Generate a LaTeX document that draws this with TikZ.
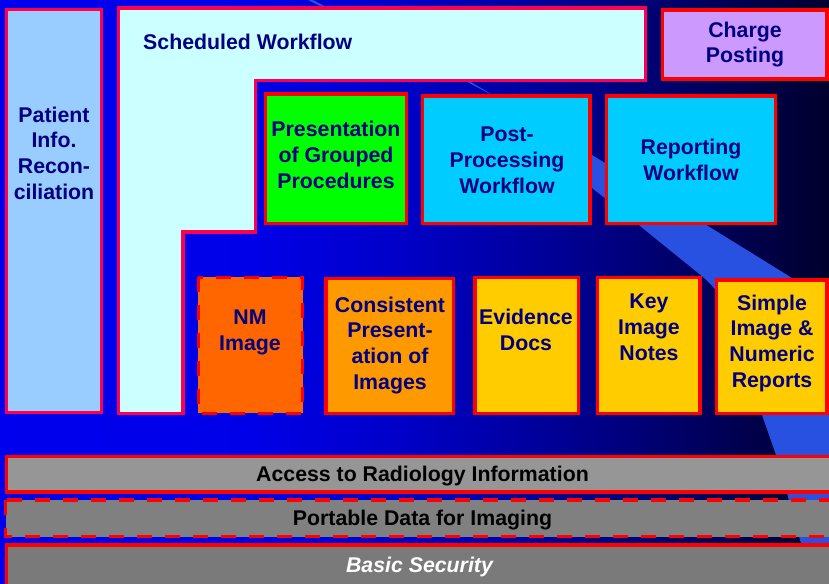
\documentclass[tikz,border=0pt]{standalone}
\usepackage{fontspec}
\setmainfont{Liberation Sans}
\usepackage{tikz}

\definecolor{bgA}{RGB}{0,0,238}
\definecolor{bgB}{RGB}{0,0,232}
\definecolor{bgC}{RGB}{0,0,200}
\definecolor{bgD}{RGB}{0,0,168}
\definecolor{bgE}{RGB}{0,0,134}
\definecolor{bgF}{RGB}{0,0,95}
\definecolor{bgG}{RGB}{0,0,45}
\definecolor{bandblue}{RGB}{40,80,225}
\definecolor{boxred}{RGB}{255,0,0}
\definecolor{pinkred}{RGB}{255,0,80}
\definecolor{navytext}{RGB}{0,0,128}
\definecolor{patblue}{RGB}{153,204,255}
\definecolor{schedcyan}{RGB}{204,255,255}
\definecolor{chargeviolet}{RGB}{204,153,255}
\definecolor{groupgreen}{RGB}{0,255,0}
\definecolor{wfcyan}{RGB}{0,204,255}
\definecolor{nmorange}{RGB}{255,102,0}
\definecolor{cpiorange}{RGB}{255,153,0}
\definecolor{notegold}{RGB}{255,204,0}
\definecolor{accgray}{RGB}{150,150,150}
\definecolor{pdigray}{RGB}{128,128,128}
\definecolor{secgray}{RGB}{122,122,122}

\pgfdeclarehorizontalshading{bgshade}{100bp}{color(0bp)=(bgA); color(25bp)=(bgA); color(40.08bp)=(bgB); color(49.13bp)=(bgC); color(55.16bp)=(bgD); color(61.19bp)=(bgE); color(67.22bp)=(bgF); color(75bp)=(bgG); color(100bp)=(bgG)}

\begin{document}
\begin{tikzpicture}[x=1pt,y=-1pt,
	box/.style={draw=boxred,line width=3.3pt},
	dbox/.style={box,dash pattern=on 15pt off 13pt},
	every node/.style={font=\fontsize{21.3}{25.6}\selectfont\bfseries,text=navytext,align=center,anchor=base,inner sep=0pt}]
\useasboundingbox (0,0) rectangle (829,583);
\clip (0,0) rectangle (829,583);

%background
\fill[shading=bgshade] (0,0) rectangle (829,583);
\fill[bandblue] (308,0) -- (471,82) -- (592,155) -- (708,226) -- (792,278) -- (840,307) -- (840,590) -- (814,590) -- (800,540) -- (788,497) -- (776,455) -- (762,415) .. controls (752,370) and (735,303) .. (703,277) -- (640,226) -- (592,188) -- (490,94) -- (313,0) -- cycle;

%left column
\draw[box,draw=pinkred,fill=patblue] (6.5,9.5) rectangle (101.5,412.5);
\node (pir) at (54,199) {Patient\\Info.\\Recon-\\ciliation};

%scheduled workflow
\draw[box,draw=pinkred,fill=schedcyan] (118.7,8) -- (645.7,8) -- (645.7,80.5) -- (255.5,80.5) -- (255.5,232) -- (183,232) -- (183,413.7) -- (118.7,413.7) -- cycle;
\node[anchor=base west] (swf) at (143,50) {Scheduled Workflow};

\draw[box,fill=chargeviolet] (662.7,10) rectangle (827,79);
\node (chp) at (745,63) {Charge\\Posting};

%upper row
\draw[box,fill=groupgreen] (265.3,94) rectangle (406.3,223.7);
\node (pgp) at (336,188) {Presentation\\of Grouped\\Procedures};
\foreach \xa/\xb in {422.7/590,606.7/775.7}
	\draw[box,fill=wfcyan] (\xa,96) rectangle (\xb,223.3);
\node (ppw) at (507,193) {Post-\\Processing\\Workflow};
\node (rwf) at (691,180) {Reporting\\Workflow};

%lower row
\draw[dbox,fill=nmorange] (198.3,277.3) rectangle (302.7,413.3);
\node (nmi) at (250,350) {NM\\Image};
\draw[box,fill=cpiorange] (326,278.3) rectangle (453.3,413.3);
\node (cpi) at (390,389) {Consistent\\Present-\\ation of\\Images};
\foreach \xa/\ya/\xb in {475/277.7/578.3,597.3/277.7/700,716.7/280/827}
	\draw[box,fill=notegold] (\xa,\ya) rectangle (\xb,413.3);
\node (evd) at (526,350) {Evidence\\Docs};
\node (kin) at (649,360) {Key\\Image\\Notes};
\node (sinr) at (772,387) {Simple\\Image \&\\Numeric\\Reports};

%bars
\draw[box,fill=accgray] (6.7,456.7) rectangle (845,492);
\node[text=black] (ari) at (422.5,481) {Access to Radiology Information};
\draw[dbox,fill=pdigray] (5.7,500) rectangle (845,536.7);
\node[text=black] (pdi) at (422.5,525) {Portable Data for Imaging};
\draw[box,fill=secgray] (6.7,545) rectangle (845,600);
\node[text=white,font=\fontsize{21.3}{25.6}\selectfont\bfseries\itshape] (bsec) at (419.5,572) {Basic Security};
\end{tikzpicture}
\end{document}
